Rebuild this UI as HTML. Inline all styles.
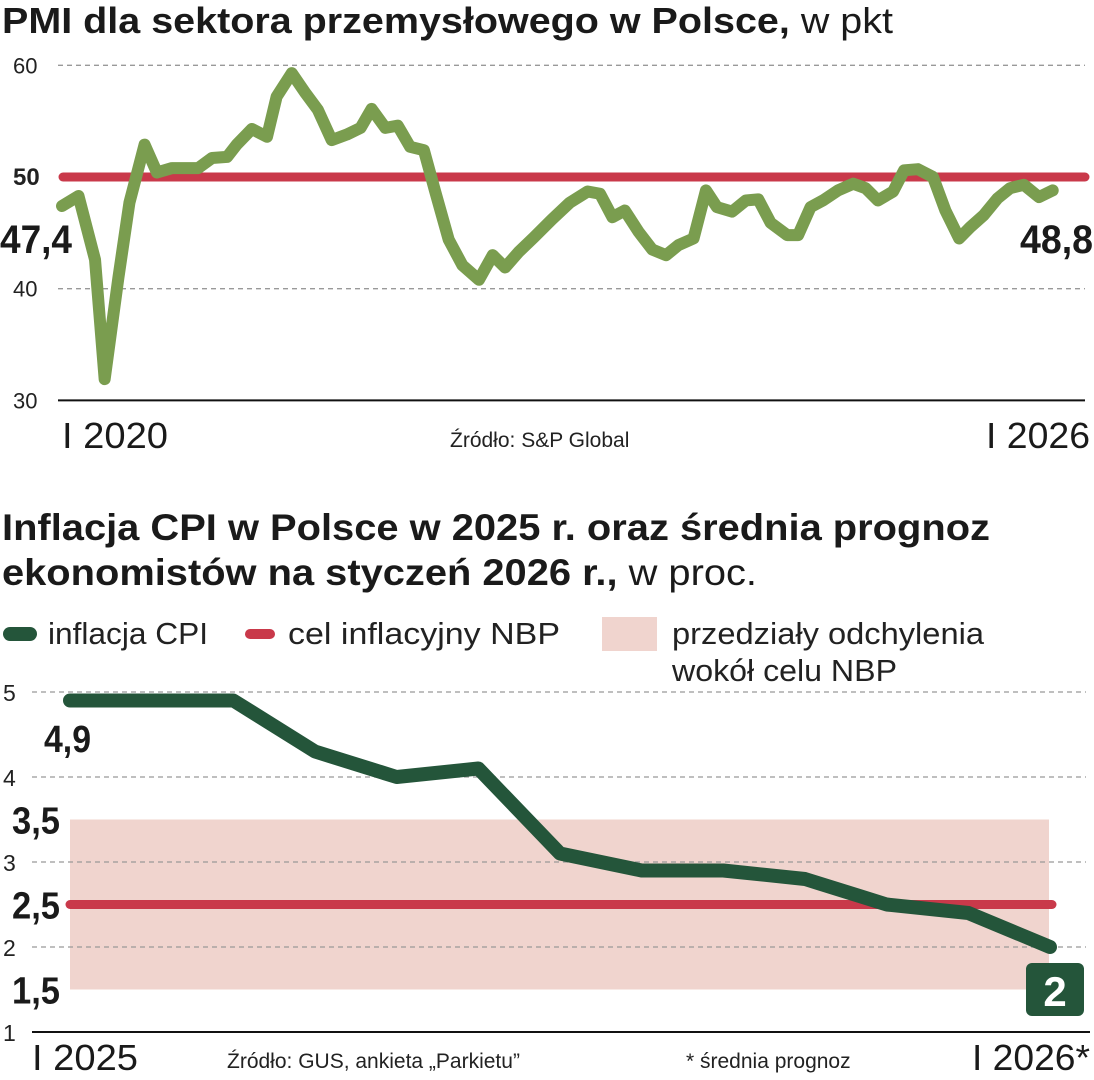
<!DOCTYPE html>
<html><head><meta charset="utf-8">
<style>
html,body{margin:0;padding:0;background:#fff;width:1094px;height:1080px;overflow:hidden}
svg text{font-family:"Liberation Sans Narrow","Liberation Sans",sans-serif}
</style></head>
<body>
<svg id="chart" width="1094" height="1080" viewBox="0 0 1094 1080" xmlns="http://www.w3.org/2000/svg">
<text x="2" y="33" font-size="36" font-weight="bold" fill="#1a1a1a" textLength="891" lengthAdjust="spacingAndGlyphs">PMI dla sektora przemysłowego w Polsce,<tspan font-weight="normal"> w pkt</tspan></text>
<g id="pmi"></g>
<text x="450" y="447" font-size="21" fill="#222">Źródło: S&amp;P Global</text>

<text x="2" y="540" font-size="37" font-weight="bold" fill="#1a1a1a" textLength="988" lengthAdjust="spacingAndGlyphs">Inflacja CPI w Polsce w 2025 r. oraz średnia prognoz</text>
<text x="2" y="585" font-size="37" font-weight="bold" fill="#1a1a1a" textLength="755" lengthAdjust="spacingAndGlyphs">ekonomistów na styczeń 2026 r.,<tspan font-weight="normal"> w proc.</tspan></text>

<g>
<g>
<line x1="10" y1="634" x2="30" y2="634" stroke="#24553a" stroke-width="14" stroke-linecap="round"/>
<text x="48" y="644" font-size="31" fill="#222" textLength="160" lengthAdjust="spacingAndGlyphs">inflacja CPI</text></g>
<g>
<line x1="250" y1="634" x2="270" y2="634" stroke="#c9394a" stroke-width="10" stroke-linecap="round"/>
<text x="288" y="644" font-size="31" fill="#222" textLength="272" lengthAdjust="spacingAndGlyphs">cel inflacyjny NBP</text></g>
<g>
<rect x="602" y="617" width="55" height="34" fill="#f0d4ce"/>
<text x="672" y="644" font-size="31" fill="#222" textLength="312" lengthAdjust="spacingAndGlyphs">przedziały odchylenia</text>
<text x="672" y="681" font-size="31" fill="#222" textLength="225" lengthAdjust="spacingAndGlyphs">wokół celu NBP</text></g>
</g>
<g id="cpi"></g>
<text x="227" y="1068" font-size="21" fill="#222">Źródło: GUS, ankieta „Parkietu”</text>
<text x="686" y="1068" font-size="21" fill="#222">* średnia prognoz</text>
</svg>
<script>
// ---- PMI data ----
const pmiMonths = [0,1.2,2.4,3.1,4.1,4.9,6,6.9,8,9.9,10.9,12,12.7,13.8,14.9,15.6,16.7,17.7,18.6,19.6,20.7,21.7,22.5,23.5,24.4,25.3,26.3,27.1,28.1,29.1,30.3,31.3,32.2,33.2,34.3,35.6,36.9,38.2,39.1,40,40.9,41.9,42.9,43.9,44.8,45.9,46.8,47.6,48.7,49.7,50.6,51.5,52.7,53.5,54.4,55.3,56.4,57.5,58.4,59.3,60.4,61.2,62.2,63.3,64.2,65.2,66,67,68,68.9,69.9,71,72];
const pmiValues = [47.4,48.3,42.6,31.9,41.0,47.7,52.9,50.4,50.8,50.8,51.7,51.8,52.9,54.3,53.6,57.2,59.3,57.5,56.0,53.3,53.8,54.4,56.1,54.4,54.6,52.7,52.4,48.8,44.4,42.1,40.8,43.0,41.9,43.3,44.6,46.2,47.7,48.7,48.5,46.4,47.0,45.1,43.5,43.0,43.9,44.5,48.8,47.3,46.9,47.9,48.0,45.9,44.8,44.8,47.3,47.9,48.8,49.4,49.0,47.9,48.7,50.6,50.7,50.0,47.0,44.5,45.5,46.6,48.1,49.0,49.3,48.2,48.8];
const pmiTicks = [30,40,50,60];
const pmiRef = 50;
// ---- CPI data ----
const cpiMonths = ["I 2025","II","III","IV","V","VI","VII","VIII","IX","X","XI","XII","I 2026*"];
const cpiValues = [4.9,4.9,4.9,4.3,4.0,4.1,3.1,2.9,2.9,2.8,2.5,2.4,2.0];
const cpiTicks = [1,2,3,4,5];
const cpiTarget = 2.5;
const cpiBand = [1.5,3.5];

const NS="http://www.w3.org/2000/svg";
function mk(parent,tag,attrs,txt){const e=document.createElementNS(NS,tag);for(const k in attrs)e.setAttribute(k,attrs[k]);if(txt!==undefined)e.textContent=txt;parent.appendChild(e);return e;}

// PMI axes
const px = m => 62 + m*13.76;
const py = v => 177 - (v-50)*11.17;
const gP = document.getElementById('pmi');
pmiTicks.forEach(t=>{
  if(t>30 && t!==pmiRef){
    const l=mk(gP,'line',{x1:58,x2:1085,y1:py(t),y2:py(t),stroke:'#999','stroke-width':1.3,'stroke-dasharray':'5 4'});
    
    
  }
  const tx=mk(gP,'text',{x:13,y:py(t)+8,'font-size':t===pmiRef?24:22,'font-weight':t===pmiRef?'bold':'normal',fill:'#222'},String(t));
  
  
});
const ax=mk(gP,'line',{x1:58,x2:1085,y1:py(30),y2:py(30),stroke:'#111','stroke-width':2});


const ref=mk(gP,'line',{x1:63,x2:1085,y1:py(pmiRef),y2:py(pmiRef),stroke:'#c9394a','stroke-width':9,'stroke-linecap':'round'});


const pl=mk(gP,'polyline',{points:pmiMonths.map((m,i)=>px(m)+','+py(pmiValues[i])).join(' '),fill:'none',stroke:'#7a9d4f','stroke-width':12,'stroke-linejoin':'round','stroke-linecap':'round'});


const l1=mk(gP,'text',{x:0,y:253,'font-size':40,'font-weight':'bold',fill:'#1a1a1a',textLength:72,lengthAdjust:'spacingAndGlyphs'},pmiValues[0].toFixed(1).replace('.',','));


const l2=mk(gP,'text',{x:1020,y:253,'font-size':40,'font-weight':'bold',fill:'#1a1a1a',textLength:73,lengthAdjust:'spacingAndGlyphs'},pmiValues[pmiValues.length-1].toFixed(1).replace('.',','));


const xl1=mk(gP,'text',{x:62,y:448,'font-size':36,fill:'#1a1a1a',textLength:106,lengthAdjust:'spacingAndGlyphs'},'I 2020');


const xl2=mk(gP,'text',{x:986,y:448,'font-size':36,fill:'#1a1a1a',textLength:104,lengthAdjust:'spacingAndGlyphs'},'I 2026');



// CPI axes
const cx = i => 70 + i*(1050-70)/(cpiMonths.length-1);
const cy = v => 947 - (v-2)*85;
const gC = document.getElementById('cpi');
const band=mk(gC,'rect',{x:70,y:cy(cpiBand[1]),width:979,height:cy(cpiBand[0])-cy(cpiBand[1]),fill:'#f0d4ce'});


cpiTicks.forEach(t=>{
  if(t>1){
    const l=mk(gC,'line',{x1:32,x2:1086,y1:cy(t),y2:cy(t),stroke:'#999','stroke-width':1.3,'stroke-dasharray':'5 4'});
    
    
  }
  const tx=mk(gC,'text',{x:3,y:cy(t)+9,'font-size':23,fill:'#222'},String(t));
  
  
});
[cpiBand[1],cpiTarget,cpiBand[0]].forEach(v=>{
  const tx=mk(gC,'text',{x:12,y:cy(v)+14,'font-size':38,'font-weight':'bold',fill:'#1a1a1a',textLength:48,lengthAdjust:'spacingAndGlyphs'},String(v).replace('.',','));
  
  
});
const cax=mk(gC,'line',{x1:32,x2:1090,y1:cy(1),y2:cy(1),stroke:'#111','stroke-width':2});


const tl=mk(gC,'line',{x1:70,x2:1052,y1:cy(cpiTarget),y2:cy(cpiTarget),stroke:'#c9394a','stroke-width':9,'stroke-linecap':'round'});


const cl=mk(gC,'polyline',{points:cpiValues.map((v,i)=>cx(i)+','+cy(v)).join(' '),fill:'none',stroke:'#24553a','stroke-width':14,'stroke-linejoin':'round','stroke-linecap':'round'});


const c1=mk(gC,'text',{x:44,y:752,'font-size':38,'font-weight':'bold',fill:'#1a1a1a',textLength:47,lengthAdjust:'spacingAndGlyphs'},cpiValues[0].toFixed(1).replace('.',','));


const bx=mk(gC,'rect',{x:1026,y:963,width:58,height:53,rx:6,fill:'#24553a'});


const c2=mk(gC,'text',{x:1055,y:1006,'text-anchor':'middle','font-size':42,'font-weight':'bold',fill:'#fff'},String(cpiValues[cpiValues.length-1]));


const cx1=mk(gC,'text',{x:32,y:1070,'font-size':36,fill:'#1a1a1a',textLength:106,lengthAdjust:'spacingAndGlyphs'},cpiMonths[0]);


const cx2=mk(gC,'text',{x:972,y:1070,'font-size':36,fill:'#1a1a1a',textLength:118,lengthAdjust:'spacingAndGlyphs'},cpiMonths[cpiMonths.length-1]);


</script>
</body></html>
